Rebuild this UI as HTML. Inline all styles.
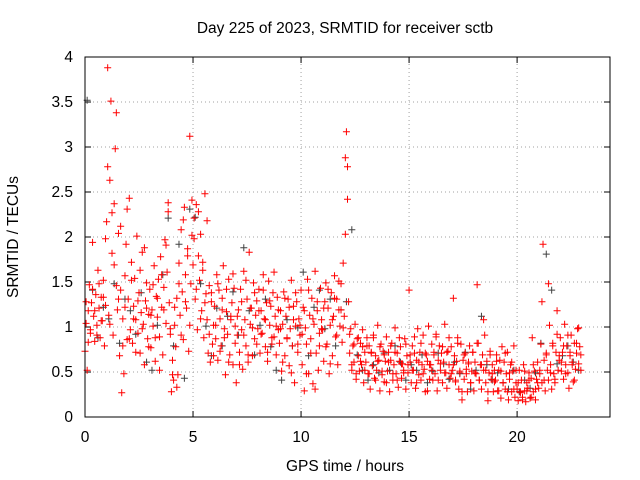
<!DOCTYPE html>
<html><head><meta charset="utf-8"><style>
html,body{margin:0;padding:0;background:#fff;width:640px;height:480px;overflow:hidden}
svg text{font-family:"Liberation Sans",sans-serif;font-size:15.5px;fill:#000}
</style></head><body>
<svg id="chart" width="640" height="480" xmlns="http://www.w3.org/2000/svg">
<text x="345" y="33" text-anchor="middle">Day 225 of 2023, SRMTID for receiver sctb</text>
<text transform="translate(18,237) rotate(-90)" text-anchor="middle">SRMTID / TECUs</text>
<text x="345" y="471" text-anchor="middle">GPS time / hours</text>
<g id="grid"></g>
<g id="ticks"></g>
<g id="gray"></g>
<g id="red"></g>
<rect x="85" y="57" width="525" height="360" fill="none" stroke="#000" stroke-width="1"/>
</svg>
<script>
const xTicks=[0,5,10,15,20];
const yTicks=[0,0.5,1,1.5,2,2.5,3,3.5,4];
const yTickLabels=["0","0.5","1","1.5","2","2.5","3","3.5","4"];
const redStart=0, redStep=0.05;
const redVals=[0.73,1.04,0.52,1.18,1.47,0.93,1.27,1.94,1.12,0.84,1.36,1.02,1.63,1.21,0.88,1.33,1.07,1.52,0.79,1.24,
2.17,3.88,1.13,2.63,3.51,1.82,0.91,2.37,2.98,1.46,1.19,2.04,0.68,1.41,0.27,1.09,0.48,1.57,1.92,0.86,
1.31,2.43,0.97,1.72,0.82,1.23,1.54,1.08,2.01,0.93,1.38,0.71,1.16,1.83,1.03,0.58,1.29,1.49,0.87,1.14,
1.42,0.77,1.19,1.01,1.68,0.62,1.34,1.11,1.53,0.89,1.78,1.22,0.69,1.44,1.97,1.04,1.61,2.38,1.27,0.92,
0.28,0.63,0.41,1.02,0.78,1.32,0.47,1.71,1.13,2.08,1.39,0.86,2.33,1.58,1.21,1.87,0.73,3.12,1.48,2.02,
1.69,2.21,1.31,2.36,0.97,1.79,1.52,2.03,1.18,1.63,0.88,2.48,1.37,1.08,0.71,1.46,0.61,1.28,0.81,1.02,
1.23,0.87,1.58,0.63,1.41,1.09,0.79,1.32,1.68,0.98,0.47,1.17,0.92,1.53,0.69,1.12,1.27,0.58,1.43,1.01,
0.38,0.91,1.19,0.72,1.42,0.97,0.53,1.62,1.08,0.79,1.31,0.61,1.83,1.03,1.21,0.68,1.49,0.87,1.13,1.29,
0.98,1.42,0.71,1.18,0.93,1.58,1.09,0.78,1.27,0.62,1.51,1.02,1.23,0.81,1.38,0.89,1.12,0.69,1.33,0.97,
0.82,1.18,0.51,1.03,1.39,0.68,1.12,0.88,1.31,0.57,0.98,1.52,0.79,1.23,0.38,1.01,1.28,0.72,1.09,0.91,
1.41,0.58,1.22,0.29,0.99,0.81,1.53,0.48,1.13,0.87,1.32,0.37,1.03,1.62,0.71,1.18,0.52,0.93,1.43,1.08,
0.97,0.62,1.28,1.49,0.81,1.21,0.48,1.02,1.38,0.68,1.12,1.57,0.89,1.31,0.58,1.19,1.01,1.48,0.83,1.71,
1.12,2.88,3.17,2.42,1.28,0.71,0.98,0.52,0.79,0.61,1.03,0.42,0.87,0.68,0.51,0.82,0.58,0.97,0.38,0.72,
0.61,0.88,0.48,0.79,0.31,0.72,0.57,0.91,0.43,0.68,0.52,1.02,0.63,0.29,0.81,0.47,0.73,0.39,0.62,0.89,
0.51,0.72,0.28,0.63,0.82,0.41,0.58,0.99,0.48,0.71,0.33,0.62,0.78,0.43,0.59,0.52,0.87,0.31,0.68,0.49,
1.41,0.61,0.38,0.79,0.52,0.71,0.32,0.63,0.98,0.47,0.72,0.41,0.58,0.91,0.53,0.28,0.69,0.62,1.01,0.42,
0.58,0.81,0.41,0.72,0.48,0.89,0.29,0.63,0.79,0.52,0.71,0.38,0.61,1.03,0.49,0.32,0.73,0.58,0.43,0.78,
0.52,1.32,0.68,0.41,0.62,0.88,0.31,0.49,0.81,0.19,0.63,0.42,0.71,0.53,0.28,0.59,0.79,0.38,0.51,0.72,
0.29,0.61,0.48,1.47,0.82,0.41,0.58,0.31,0.69,0.52,0.91,0.38,0.62,0.18,0.49,0.73,0.42,0.58,0.28,0.52,
0.41,0.69,0.29,0.52,0.63,0.21,0.78,0.38,0.61,0.31,0.48,0.72,0.19,0.42,0.58,0.28,0.51,0.79,0.22,0.38,
0.31,0.18,0.52,0.27,0.41,0.22,0.58,0.29,0.17,0.38,0.32,0.49,0.21,0.43,0.88,0.28,0.51,0.19,0.42,0.61,
0.32,0.48,0.81,0.38,1.92,0.63,0.29,0.71,0.52,0.41,1.02,0.58,0.31,0.79,0.48,0.42,0.72,1.18,0.52,0.63,
0.88,0.51,0.72,0.42,1.03,0.58,0.79,0.49,0.32,0.68,0.91,0.61,0.39,0.82,0.53,0.71,0.98,0.59,0.78,0.52];
const red2Start=0.05, red2Step=0.1;
const red2Vals=[1.28,0.83,0.97,1.42,1.18,0.91,1.48,1.07,1.33,1.98,
2.78,1.03,2.27,1.69,3.38,1.31,2.12,0.79,1.22,2.31,
0.87,1.52,1.09,0.72,1.29,1.63,0.98,1.88,1.21,0.78,
1.13,1.47,0.88,1.32,0.52,1.58,1.19,1.91,2.28,0.98,
0.47,1.22,0.33,1.48,0.91,2.19,1.28,1.79,1.02,2.41,
1.98,1.42,2.28,1.09,1.72,1.27,2.18,0.92,1.38,0.68,
1.02,1.48,0.73,1.19,0.88,1.42,0.61,1.08,1.59,0.82,
1.12,0.58,1.28,0.91,1.52,0.69,1.21,0.99,1.38,0.81,
1.18,0.92,1.41,1.08,0.72,1.29,0.88,1.61,1.01,1.19,
0.98,0.61,1.32,0.87,1.22,0.49,1.08,1.38,0.81,1.02,
0.92,1.18,0.48,1.41,0.71,1.09,0.31,1.28,0.79,0.98,
1.21,0.78,1.42,0.59,1.08,1.32,0.91,1.51,1.19,0.99,
2.03,2.78,0.92,0.58,0.81,0.48,0.88,0.62,0.78,0.52,
0.79,0.48,0.71,0.88,0.41,0.62,0.78,0.51,0.69,0.38,
0.61,0.79,0.48,0.72,0.41,0.88,0.59,0.49,0.81,0.58,
0.69,0.52,0.89,0.38,0.61,0.82,0.48,0.71,0.29,0.58,
0.52,0.69,0.92,0.41,0.59,0.78,0.49,0.72,0.88,0.48,
0.58,0.39,0.82,0.51,0.28,0.69,0.48,0.61,0.38,0.72,
0.49,0.82,0.41,0.58,1.08,0.52,0.28,0.69,0.48,0.39,
0.62,0.29,0.51,0.38,0.71,0.28,0.49,0.61,0.31,0.52,
0.38,0.28,0.19,0.51,0.29,0.41,0.22,0.58,0.31,0.38,
0.52,1.28,0.41,0.69,1.48,0.49,0.82,0.38,0.92,0.68,
0.61,0.79,0.48,0.91,0.72,0.58,0.41,0.82,0.99,0.69];
const grayStart=0.1, grayStep=0.25;
const grayVals=[3.52,1.41,0.88,1.22, 1.09,1.48,0.82,1.31, 1.18,0.92,1.38,0.61, 0.52,1.02,1.58,2.21,
0.79,1.92,0.43,2.31, 2.22,1.48,1.01,0.68, 1.21,0.79,1.12,1.39, 0.91,1.88,1.18,0.69, 1.02,1.31,0.78,0.52,
0.41,1.08,0.79,0.99, 1.61,0.68,1.22,1.41, 0.98,1.31,0.79,1.19, 1.28,2.08,0.69,0.52, 0.41,0.58,0.49,0.71,
0.52,0.79,0.61,0.41, 0.58,0.52,0.69,0.38, 0.51,0.71,0.59,0.42, 0.61,0.48,0.72,0.31, 0.52,1.12,0.58,0.41,
0.49,0.38,0.31,0.52, 0.28,0.41,0.32,0.49, 0.82,1.81,1.41,0.59, 0.68,0.79,0.61,0.52];

const NS='http://www.w3.org/2000/svg';
const X0=85,X1=610,Y0=417,Y1=57,XMAX=24.3,YMAX=4;
function sx(v){return X0+(X1-X0)*v/XMAX;}
function sy(v){return Y0-(Y0-Y1)*v/YMAX;}
function mk(tag,attrs,parent){const e=document.createElementNS(NS,tag);for(const k in attrs)e.setAttribute(k,attrs[k]);parent.appendChild(e);return e;}
const grid=document.getElementById('grid'),ticks=document.getElementById('ticks');
yTicks.forEach((v,i)=>{
  const y=sy(v);
  if(i>0&&i<yTicks.length-1){const g=mk('line',{x1:X0,x2:X1,y1:y,y2:y,stroke:'#a0a0a0','stroke-dasharray':'1,3'},grid);
  
  }
  mk('line',{x1:X0,x2:X0+6,y1:y,y2:y,stroke:'#000'},ticks);
  mk('line',{x1:X1,x2:X1-6,y1:y,y2:y,stroke:'#000'},ticks);
  const t=mk('text',{x:X0-12,y:y+5,'text-anchor':'end'},ticks);t.textContent=yTickLabels[i];
  
  
});
xTicks.forEach(v=>{
  const x=sx(v);
  if(v>0){const g=mk('line',{x1:x,x2:x,y1:Y0,y2:Y1,stroke:'#a0a0a0','stroke-dasharray':'1,3'},grid);
  
  }
  mk('line',{x1:x,x2:x,y1:Y0,y2:Y0-6,stroke:'#000'},ticks);
  mk('line',{x1:x,x2:x,y1:Y1,y2:Y1+6,stroke:'#000'},ticks);
  const t=mk('text',{x:x,y:Y0+25,'text-anchor':'middle'},ticks);t.textContent=String(v);
  
  
});
function plus(g,t,v,col){
  const x=sx(t),y=sy(v);
  const p=mk('path',{d:`M${x-3.5},${y}h7M${x},${y-3.5}v7`,stroke:col,'stroke-width':1,fill:'none'},g);
  
  
}
const gg=document.getElementById('gray'),rg=document.getElementById('red');
grayVals.forEach((v,i)=>plus(gg,grayStart+i*grayStep,v,'#404040'));
redVals.forEach((v,i)=>plus(rg,redStart+i*redStep,v,'#ff0000'));
red2Vals.forEach((v,i)=>plus(rg,red2Start+i*red2Step,v,'#ff0000'));
</script>
</body></html>
